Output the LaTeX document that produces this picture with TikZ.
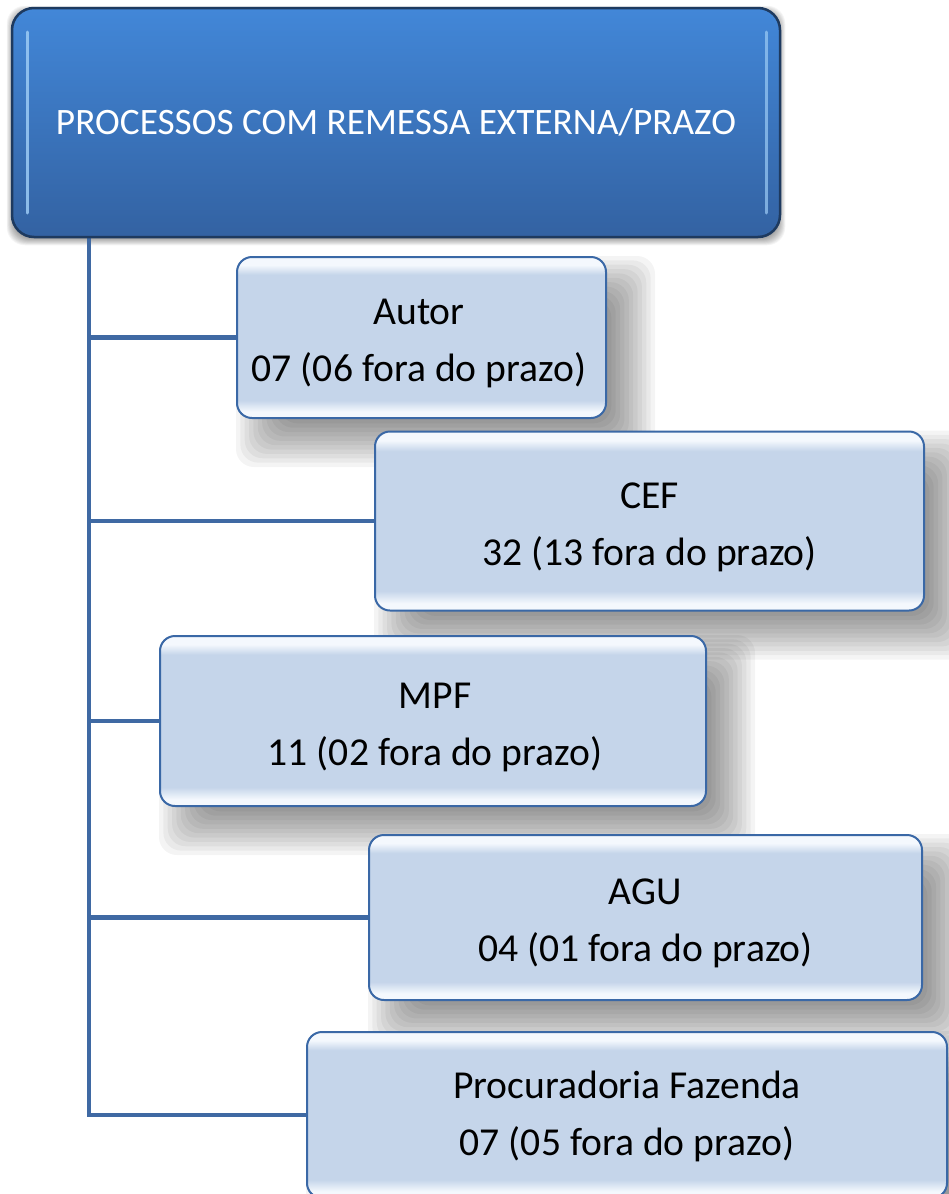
\documentclass[tikz,border=0pt]{standalone}
\usepackage{fontspec}
\setmainfont{Carlito}
\definecolor{topA}{HTML}{4287D8}
\definecolor{topB}{HTML}{3362A2}
\definecolor{topEdge}{HTML}{1E3A5F}
\definecolor{topHi}{HTML}{9CCBF5}
\definecolor{cbase}{HTML}{C5D5EA}
\definecolor{clight}{HTML}{F4F8FD}
\definecolor{cedge}{HTML}{3A68A6}
\definecolor{connc}{HTML}{3F69A3}
\pgfdeclareverticalshading{childbevel}{100bp}{color(0bp)=(clight); color(25bp)=(clight); color(27bp)=(clight); color(30.5bp)=(cbase); color(69.5bp)=(cbase); color(72.5bp)=(clight); color(100bp)=(clight)}
\pgfdeclarelayer{paper}
\pgfdeclarelayer{shade}
\pgfdeclarelayer{links}
\pgfsetlayers{paper,shade,links,main}
\newcommand\softshade[5]{% #1 node, #2 xshift, #3 yshift (neg = down), #4 blur, #5 opacity per layer
  \begin{pgfonlayer}{shade}
  \foreach \k in {0,...,11}{
    \pgfmathsetmacro\ee{#4-\k*2*#4/11}
    \pgfmathsetmacro\xa{#2-\ee}\pgfmathsetmacro\ya{#3-\ee}
    \pgfmathsetmacro\xb{#2+\ee}\pgfmathsetmacro\yb{#3+\ee}
    \fill[black, opacity=#5, rounded corners=18pt]
      ([shift={(\xa pt,\ya pt)}]#1.south west) rectangle ([shift={(\xb pt,\yb pt)}]#1.north east);
  }
  \end{pgfonlayer}
}
\tikzset{
  rootbox/.style={draw=topEdge, line width=2.5pt, rounded corners=22pt,
    top color=topA, bottom color=topB, text=white, inner sep=0pt,
    font=\fontsize{37.3}{46}\selectfont},
  childbox/.style={draw=cedge, line width=2pt, rounded corners=15pt,
    shading=childbevel, inner sep=0pt},
  childtext/.style={text=black, inner sep=0pt, align=center,
    font=\fontsize{39.6}{57}\selectfont},
  connector/.style={draw=connc, line width=4.5pt}
}
\begin{document}
\begin{tikzpicture}[x=1pt,y=-1pt]
\useasboundingbox (0,0) rectangle (949,1194);
\begin{pgfonlayer}{paper}
\fill[white] (0,0) rectangle (949,1194);
\end{pgfonlayer}
% root
\node[rootbox, minimum width=768pt, minimum height=229pt] (root) at (396,122.5)
  {PROCESSOS COM REMESSA EXTERNA/PRAZO};
\softshade{root}{0}{-3}{4}{0.04}
\draw[topHi, line width=3pt, line cap=round, opacity=0.85] (27,32) -- (27,213);
\draw[topHi, line width=3pt, line cap=round, opacity=0.7] (766,32) -- (766,213);
\coordinate (trunk) at (89,237);
% boxes
\node[childbox, minimum width=369pt, minimum height=161pt] (autor) at (421.5,337.5) {};
\node[childtext] (autorT) at (419,343.5) {Autor\\07 (06 fora do prazo)};
\softshade{autor}{24}{-24}{24}{0.045}
\node[childbox, minimum width=549pt, minimum height=179pt] (cef) at (649.5,521) {};
\node[childtext] (cefT) at (649.5,527.5) {CEF\\32 (13 fora do prazo)};
\softshade{cef}{24}{-24}{24}{0.045}
\node[childbox, minimum width=546pt, minimum height=170pt] (mpf) at (433,721) {};
\node[childtext] (mpfT) at (435,727) {MPF\\11 (02 fora do prazo)};
\softshade{mpf}{24}{-24}{24}{0.045}
\node[childbox, minimum width=553pt, minimum height=165pt] (agu) at (645.5,917.5) {};
\node[childtext] (aguT) at (645.5,923) {AGU\\04 (01 fora do prazo)};
\softshade{agu}{24}{-24}{24}{0.045}
\node[childbox, minimum width=640pt, minimum height=166pt] (proc) at (627,1115) {};
\node[childtext] (procT) at (627,1116.5) {Procuradoria Fazenda\\07 (05 fora do prazo)};
\softshade{proc}{24}{-24}{24}{0.045}
\begin{pgfonlayer}{links}
\draw[connector] (trunk) |- (autor.west);
\draw[connector] (trunk) |- (cef.west);
\draw[connector] (trunk) |- (mpf.west);
\draw[connector] (trunk) |- (agu.west);
\draw[connector] (trunk) |- (proc.west);
\end{pgfonlayer}
\end{tikzpicture}
\end{document}
